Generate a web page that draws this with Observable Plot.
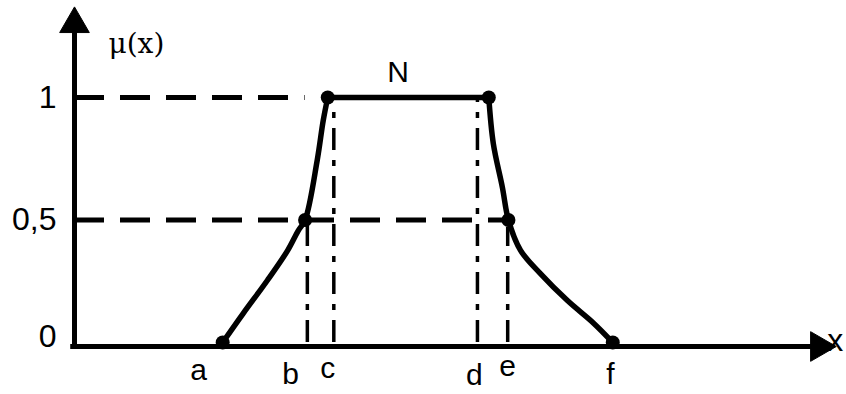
<!DOCTYPE html>
<html>
<head>
<meta charset="utf-8">
<script src="https://cdn.jsdelivr.net/npm/d3@7"></script>
<script src="https://cdn.jsdelivr.net/npm/@observablehq/plot@0.6"></script>
<style>
  html, body { margin: 0; padding: 0; background: #fff; }
  svg { display: block; }
</style>
</head>
<body>
<div id="chart"></div>
<script>
// Membership function μ(x): key points a..f
const pointNames = ["a", "b", "c", "d", "e", "f"];
const pointX = [1.96, 3.05, 3.35, 5.48, 5.74, 7.12];
const pointY = [0, 0.5, 1, 1, 0.5, 0];

// traced curve pieces (x, μ)
const riseX = [1.96, 2.23, 2.55, 2.82, 2.96, 3.05, 3.21, 3.29, 3.35];
const riseY = [0, 0.118, 0.253, 0.376, 0.457, 0.5, 0.743, 0.906, 1];
const topX = [3.35, 5.48];
const topY = [1, 1];
const fallX = [5.48, 5.54, 5.66, 5.74, 5.90, 6.16, 6.52, 6.87, 7.12];
const fallY = [1, 0.812, 0.633, 0.5, 0.376, 0.282, 0.171, 0.078, 0];

// x-axis letter labels
const labelX = [1.64, 2.86, 3.35, 5.29, 5.73, 7.09];
const labelDy = [28, 32, 26, 33, 24, 32];

// vertical drop lines
const dropX = [3.08, 3.43, 5.33, 5.73];
const dropTop = [0.5, 0.98, 1, 0.47];

// horizontal guide lines
const guideY = [1, 0.5];
const guideEnd = [3.05, 5.73];

// y tick labels
const yTickValues = [1, 0.5, 0];
const yTickLabels = ["1", "0,5", "0"];
const yTickDy = [0, 0, -6];

const toRows = (xs, ys) => xs.map((x, i) => ({x, y: ys[i]}));
const pieces = [toRows(riseX, riseY), toRows(topX, topY), toRows(fallX, fallY)];
const pts = pointX.map((x, i) => ({x, y: pointY[i], name: pointNames[i], lx: labelX[i], dy: labelDy[i]}));
const drops = dropX.map((x, i) => ({x, top: dropTop[i]}));
const guides = guideY.map((y, i) => ({y, end: guideEnd[i]}));
const yTicks = yTickValues.map((v, i) => ({v, label: yTickLabels[i], dy: yTickDy[i]}));

const sans = "'Liberation Sans', Arial, sans-serif";
const serif = "'DejaVu Serif', 'Liberation Serif', serif";

const chart = Plot.plot({
  width: 846,
  height: 394,
  marginLeft: 74,
  marginRight: 16,
  marginTop: 97,
  marginBottom: 52,
  x: {domain: [0, 10], axis: null},
  y: {domain: [0, 1], axis: null},
  style: {background: "#fff", overflow: "visible"},
  marks: [
    // horizontal dashed guides
    Plot.ruleY(guides, {y: "y", x1: 0, x2: "end", stroke: "black", strokeWidth: 5, strokeDasharray: "30,16"}),
    // vertical dashed drops
    Plot.ruleX(drops, {x: "x", y1: 0, y2: "top", stroke: "black", strokeWidth: 3.5, strokeDasharray: "22,10,6,10"}),
    // axes
    Plot.ruleX([0], {y1: -0.02, y2: 1.28, stroke: "black", strokeWidth: 5}),
    Plot.ruleY([0], {x1: -0.05, x2: 9.85, stroke: "black", strokeWidth: 5, dy: 4}),
    Plot.dot([{x: 0, y: 1.3}], {x: "x", y: "y", symbol: "triangle", r: 11, fill: "black", stroke: "black", strokeWidth: 1}),
    Plot.dot([{x: 9.85, y: 0}], {x: "x", y: "y", symbol: "triangle", r: 11, rotate: 90, fill: "black", stroke: "black", strokeWidth: 1, dy: 4}),
    // membership curve
    ...pieces.map(p => Plot.line(p, {x: "x", y: "y", curve: "catmull-rom", stroke: "black", strokeWidth: 5.5, strokeLinejoin: "round", strokeLinecap: "round"})),
    Plot.dot(pts, {x: "x", y: "y", r: 7, fill: "black"}),
    // point labels
    ...pts.map(p => Plot.text([p], {x: "lx", y: 0, text: "name", dy: p.dy, fontSize: 30, fontFamily: sans, fill: "black", lineAnchor: "middle"})),
    // y tick labels
    ...yTicks.map(t => Plot.text([t], {x: 0, y: "v", text: "label", dx: -18, dy: t.dy, textAnchor: "end", lineAnchor: "middle", fontSize: 32, fontFamily: sans, fill: "black"})),
    // axis titles
    Plot.text(["μ(x)"], {x: 0, y: 1.22, text: d => d, dx: 34, textAnchor: "start", lineAnchor: "middle", fontSize: 28, fontFamily: serif, fill: "black"}),
    Plot.text(["x"], {x: 9.85, y: 0, text: d => d, dx: 8, dy: -2, textAnchor: "start", lineAnchor: "middle", fontSize: 32, fontFamily: sans, fill: "black"}),
    Plot.text(["N"], {x: 4.28, y: 1, text: d => d, dy: -25, lineAnchor: "middle", fontSize: 30, fontFamily: sans, fill: "black"})
  ]
});
document.getElementById("chart").appendChild(chart);
</script>
</body>
</html>
